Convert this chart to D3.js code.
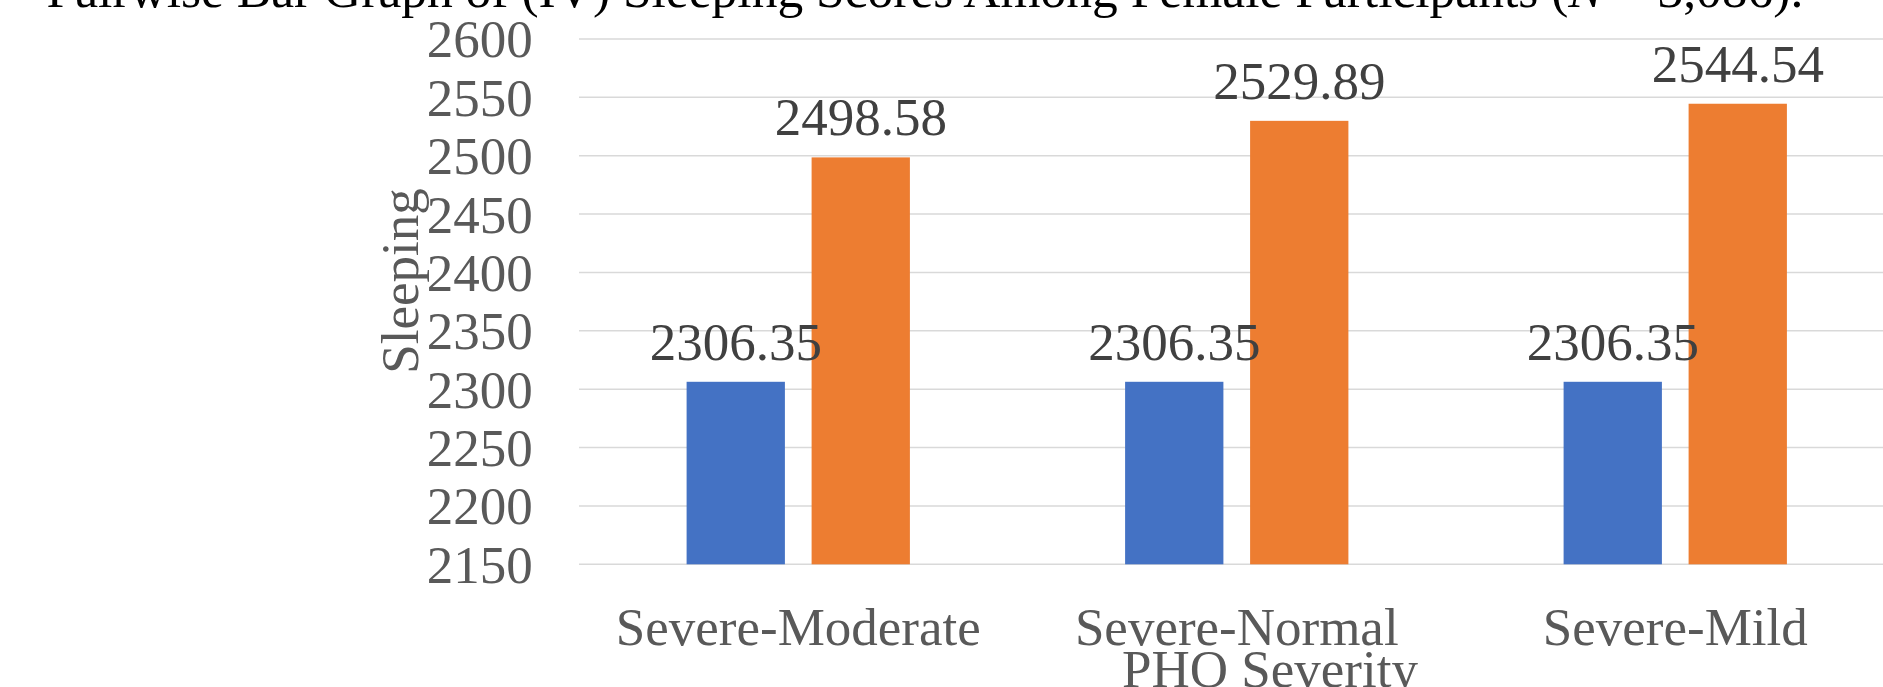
<!DOCTYPE html>
<html>
<head>
<meta charset="utf-8">
<script src="https://cdn.jsdelivr.net/npm/d3@7"></script>
<style>
  html, body { margin: 0; padding: 0; background: #ffffff; overflow: hidden; }
  svg { display: block; }
  text { font-family: "Liberation Serif", "Times New Roman", serif; }
</style>
</head>
<body>
<script>
// Pairwise comparison categories and the two series of mean sleeping scores
const categories = ["Severe-Moderate", "Severe-Normal", "Severe-Mild"];
const severeScores = [2306.35, 2306.35, 2306.35];
const comparisonScores = [2498.58, 2529.89, 2544.54];
const seriesKeys = ["severe", "comparison"];
const seriesColors = ["#4472C4", "#ED7D31"];
const yTicks = [2150, 2200, 2250, 2300, 2350, 2400, 2450, 2500, 2550, 2600];
const yDomain = [2150, 2600];

const yTitle = "Sleeping";
const xTitle = "PHO Severity";

const W = 1883, H = 687;
const plotLeft = 579, plotRight = 1894.5, plotTop = 39, plotBottom = 564.3;
const fontSize = 53;

const svg = d3.select("body").append("svg")
  .attr("width", W).attr("height", H);

const x = d3.scaleBand().domain(categories).range([plotLeft, plotRight]).padding(0);
const x1 = d3.scaleBand().domain(seriesKeys).range([-111.65, 111.65]).paddingInner(0.2136).paddingOuter(0);
const y = d3.scaleLinear().domain(yDomain).range([plotBottom, plotTop]);

// Horizontal gridlines
svg.append("g")
  .selectAll("line")
  .data(yTicks)
  .join("line")
  .attr("x1", plotLeft).attr("x2", W)
  .attr("y1", d => y(d)).attr("y2", d => y(d))
  .attr("stroke", "#d9d9d9")
  .attr("stroke-width", 1.5);

// Y tick labels
const yAxis = d3.axisLeft(y).tickValues(yTicks).tickSize(0).tickPadding(0).tickFormat(d3.format("d"));
const yg = svg.append("g").attr("transform", `translate(532.7,0)`).call(yAxis);
yg.select(".domain").remove();
yg.selectAll("text")
  .attr("font-family", "Liberation Serif, Times New Roman, serif")
  .attr("font-size", fontSize)
  .attr("fill", "#595959")
  .attr("dy", null)
  .attr("y", 0.338 * fontSize)
  .attr("x", 0)
  .attr("text-anchor", "end");

// Bars
const rows = categories.map((c, i) => ({
  category: c,
  values: [
    { key: "severe", value: severeScores[i] },
    { key: "comparison", value: comparisonScores[i] }
  ]
}));

const groups = svg.append("g").selectAll("g")
  .data(rows)
  .join("g")
  .attr("transform", d => `translate(${x(d.category) + x.bandwidth() / 2},0)`);

groups.selectAll("rect")
  .data(d => d.values)
  .join("rect")
  .attr("x", d => x1(d.key))
  .attr("width", x1.bandwidth())
  .attr("y", d => y(d.value))
  .attr("height", d => y(yDomain[0]) - y(d.value))
  .attr("fill", (d, i) => seriesColors[i]);

// Value labels above bars
groups.selectAll("text.value")
  .data(d => d.values)
  .join("text")
  .attr("class", "value")
  .attr("x", d => x1(d.key) + x1.bandwidth() / 2)
  .attr("y", d => y(d.value) - 22)
  .attr("text-anchor", "middle")
  .attr("font-size", fontSize)
  .attr("fill", "#404040")
  .text(d => d3.format(".2f")(d.value));

// Category labels
svg.append("g").selectAll("text")
  .data(categories)
  .join("text")
  .attr("x", d => x(d) + x.bandwidth() / 2)
  .attr("y", 645)
  .attr("text-anchor", "middle")
  .attr("font-size", fontSize)
  .attr("fill", "#595959")
  .text(d => d);

// Axis titles
svg.append("text")
  .attr("x", 1270)
  .attr("y", 687)
  .attr("text-anchor", "middle")
  .attr("font-size", fontSize)
  .attr("fill", "#595959")
  .text(xTitle);

svg.append("text")
  .attr("transform", "translate(418,281) rotate(-90)")
  .attr("text-anchor", "middle")
  .attr("font-size", fontSize)
  .attr("fill", "#595959")
  .text(yTitle);

// Chart title
const title = svg.append("text")
  .attr("x", 925)
  .attr("y", 7)
  .attr("text-anchor", "middle")
  .attr("font-size", 51.5)
  .attr("fill", "#000000");
title.append("tspan").text("Pairwise Bar Graph of (IV) Sleeping Scores Among Female Participants (");
title.append("tspan").attr("font-style", "italic").text("N");
title.append("tspan").text(" = 3,086).");
</script>
</body>
</html>
